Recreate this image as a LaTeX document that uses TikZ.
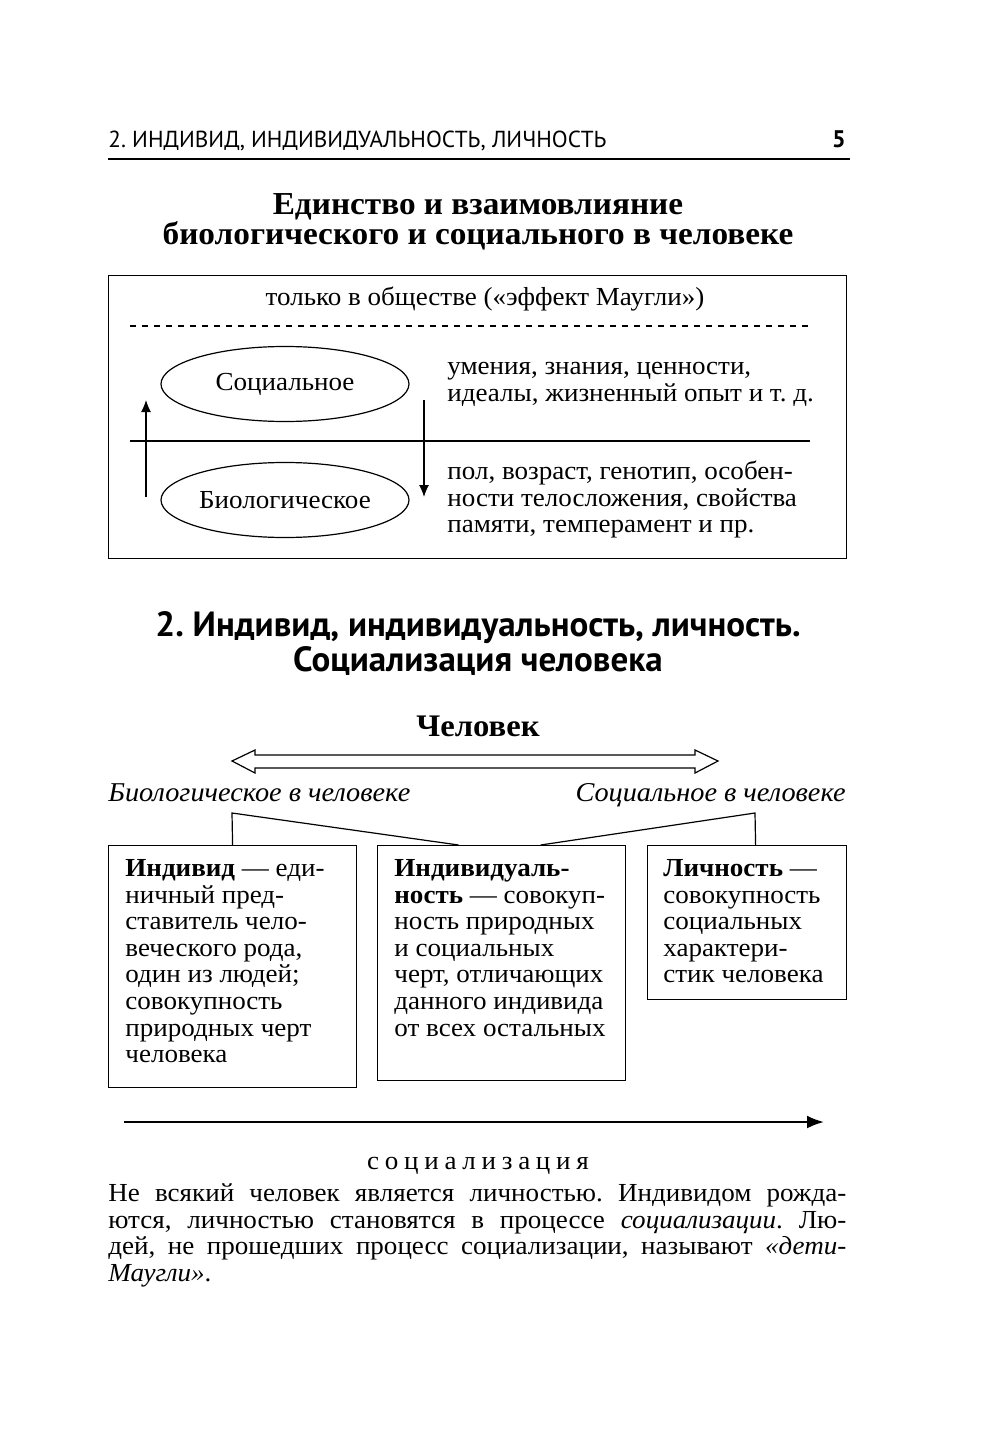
\documentclass[tikz,border=0pt]{standalone}
\usepackage{fontspec}
\setmainfont{Liberation Serif}[FakeStretch=1.04]
\newfontfamily\hdsans{PT Sans}
\usetikzlibrary{shapes.geometric,arrows.meta}
\frenchspacing
\tikzset{
  body/.style={font=\fontsize{13}{13.3}\selectfont, inner sep=0pt},
  ell/.style={draw, ellipse, line width=0.6pt, minimum width=124pt, minimum height=37.5pt, inner sep=0pt, font=\fontsize{13}{13.3}\selectfont},
  defbox/.style={draw, line width=0.6pt, anchor=north west, inner sep=0pt},
  boxtext/.style={body, anchor=north west, align=left},
  thinline/.style={line width=0.6pt},
  uparrow/.style={line width=0.6pt, -{Latex[length=6pt,width=5pt]}},
  itext/.style={body, font=\itshape\fontsize{13.6}{14}\selectfont},
}
\begin{document}
\begin{tikzpicture}[x=0.5pt,y=-0.5pt]
\useasboundingbox[fill=white] (0,0) rectangle (1000,1439);

% running header
\node[anchor=base west, inner sep=0pt, font=\hdsans\fontsize{11.6}{13}\selectfont] (hdr) at (108,148) {2. ИНДИВИД, ИНДИВИДУАЛЬНОСТЬ, ЛИЧНОСТЬ};
\node[anchor=base east, inner sep=0pt, font=\hdsans\bfseries\fontsize{12}{13}\selectfont] (pg) at (846,148) {5};
\coordinate (r0) at (108,159);
\coordinate (r1) at (850,159);
\draw[line width=0.7pt] (r0) -- (r1);

% title
\node[inner sep=0pt, anchor=base, font=\bfseries\fontsize{16}{17}\selectfont] (t1) at (478,214) {Единство и взаимовлияние};
\node[inner sep=0pt, anchor=base, font=\bfseries\fontsize{16}{17}\selectfont] (t2) at (478,244) {биологического и социального в человеке};

% box 1
\node[defbox, minimum width=369pt, minimum height=141.5pt] (box1) at (108,275) {};
\node[body, anchor=base] (maug) at (485,305) {только в обществе («эффект Маугли»)};
\coordinate (d0) at (130,326);
\coordinate (d1) at (810,326);
\draw[thinline, dash pattern=on 3pt off 3pt] (d0) -- (d1);
\coordinate (h0) at (130,441);
\coordinate (h1) at (810,441);
\draw[line width=0.9pt] (h0) -- (h1);

\node[ell] (soc) at (285,384) {Социальное};
\node[ell] (bio) at (285,500) {Биологическое};

\coordinate (ua0) at (146,497);
\coordinate (ua1) at (146,400);
\draw[uparrow] (ua0) -- (ua1);
\coordinate (da0) at (424,400);
\coordinate (da1) at (424,497);
\draw[uparrow] (da0) -- (da1);

\node[boxtext] (soctxt) at (447,355.4) {\strut умения, знания, ценности,\\идеалы, жизненный опыт и т.~д.};
\node[boxtext] (biotxt) at (447,460.4) {\strut пол, возраст, генотип, особен-\\ности телосложения, свойства\\памяти, темперамент и пр.};

% section heading
\node[inner sep=0pt, anchor=base, font=\hdsans\bfseries\fontsize{17.5}{19}\selectfont] (s1) at (478,636) {2. Индивид, индивидуальность, личность.};
\node[inner sep=0pt, anchor=base, font=\hdsans\bfseries\fontsize{17.5}{19}\selectfont] (s2) at (478,671) {Социализация человека};

% Человек
\node[inner sep=0pt, anchor=base, font=\bfseries\fontsize{15.7}{17}\selectfont] (chel) at (478,736) {Человек};
\draw[thinline, line join=miter, fill=white]
  (232,761) -- (255,750) -- (255,755) -- (695,755) -- (695,750) -- (718,761)
  -- (695,773) -- (695,768) -- (255,768) -- (255,773) -- cycle;

\node[itext, anchor=base west] (bioch) at (108,801) {Биологическое в человеке};
\node[itext, anchor=base east] (socch) at (846,801) {Социальное в человеке};

% three boxes
\node[defbox, minimum width=124pt, minimum height=121pt] (ind) at (108,845) {};
\node[defbox, minimum width=124pt, minimum height=117.5pt] (indv) at (377,845) {};
\node[defbox, minimum width=99.5pt, minimum height=77pt] (lich) at (647,845) {};

\node[boxtext] (indt) at (125,857.4) {\strut\textbf{Индивид} — еди-\\ничный пред-\\ставитель чело-\\веческого рода,\\один из людей;\\совокупность\\природных черт\\человека};
\node[boxtext] (indvt) at (394,857.4) {\strut\textbf{Индивидуаль-}\\\textbf{ность} — совокуп-\\ность природных\\и социальных\\черт, отличающих\\данного индивида\\от всех остальных};
\node[boxtext] (licht) at (663,857.4) {\strut\textbf{Личность} —\\совокупность\\социальных\\характери-\\стик человека};

% connectors
\coordinate (ca) at (232,813);
\coordinate (cc) at (755,813);
\draw[thinline] (ind.north) -- (ca) -- ([xshift=-21.5pt]indv.north);
\draw[thinline] ([xshift=4.25pt]lich.north) -- (cc) -- ([xshift=19.5pt]indv.north);

% socialization arrow
\coordinate (so0) at (124,1122);
\coordinate (so1) at (824,1122);
\draw[line width=1.1pt, -{Latex[length=8.5pt,width=6.5pt]}] (so0) -- (so1);
\node[body, anchor=base, font=\addfontfeature{LetterSpace=22}\fontsize{13}{13.3}\selectfont] (socz) at (478,1169) {социализация};

% paragraph
\node[body, anchor=base west] (p1) at (108,1201) {\makebox[369pt][s]{Не всякий человек является личностью. Индивидом рожда-}};
\node[body, anchor=base west] (p2) at (108,1228) {\makebox[369pt][s]{ются, личностью становятся в процессе \textit{социализации}. Лю-}};
\node[body, anchor=base west] (p3) at (108,1254) {\makebox[369pt][s]{дей, не прошедших процесс социализации, называют \textit{«дети-}}};
\node[body, anchor=base west] (p4) at (108,1281) {\textit{Маугли»}.};
\end{tikzpicture}
\end{document}
